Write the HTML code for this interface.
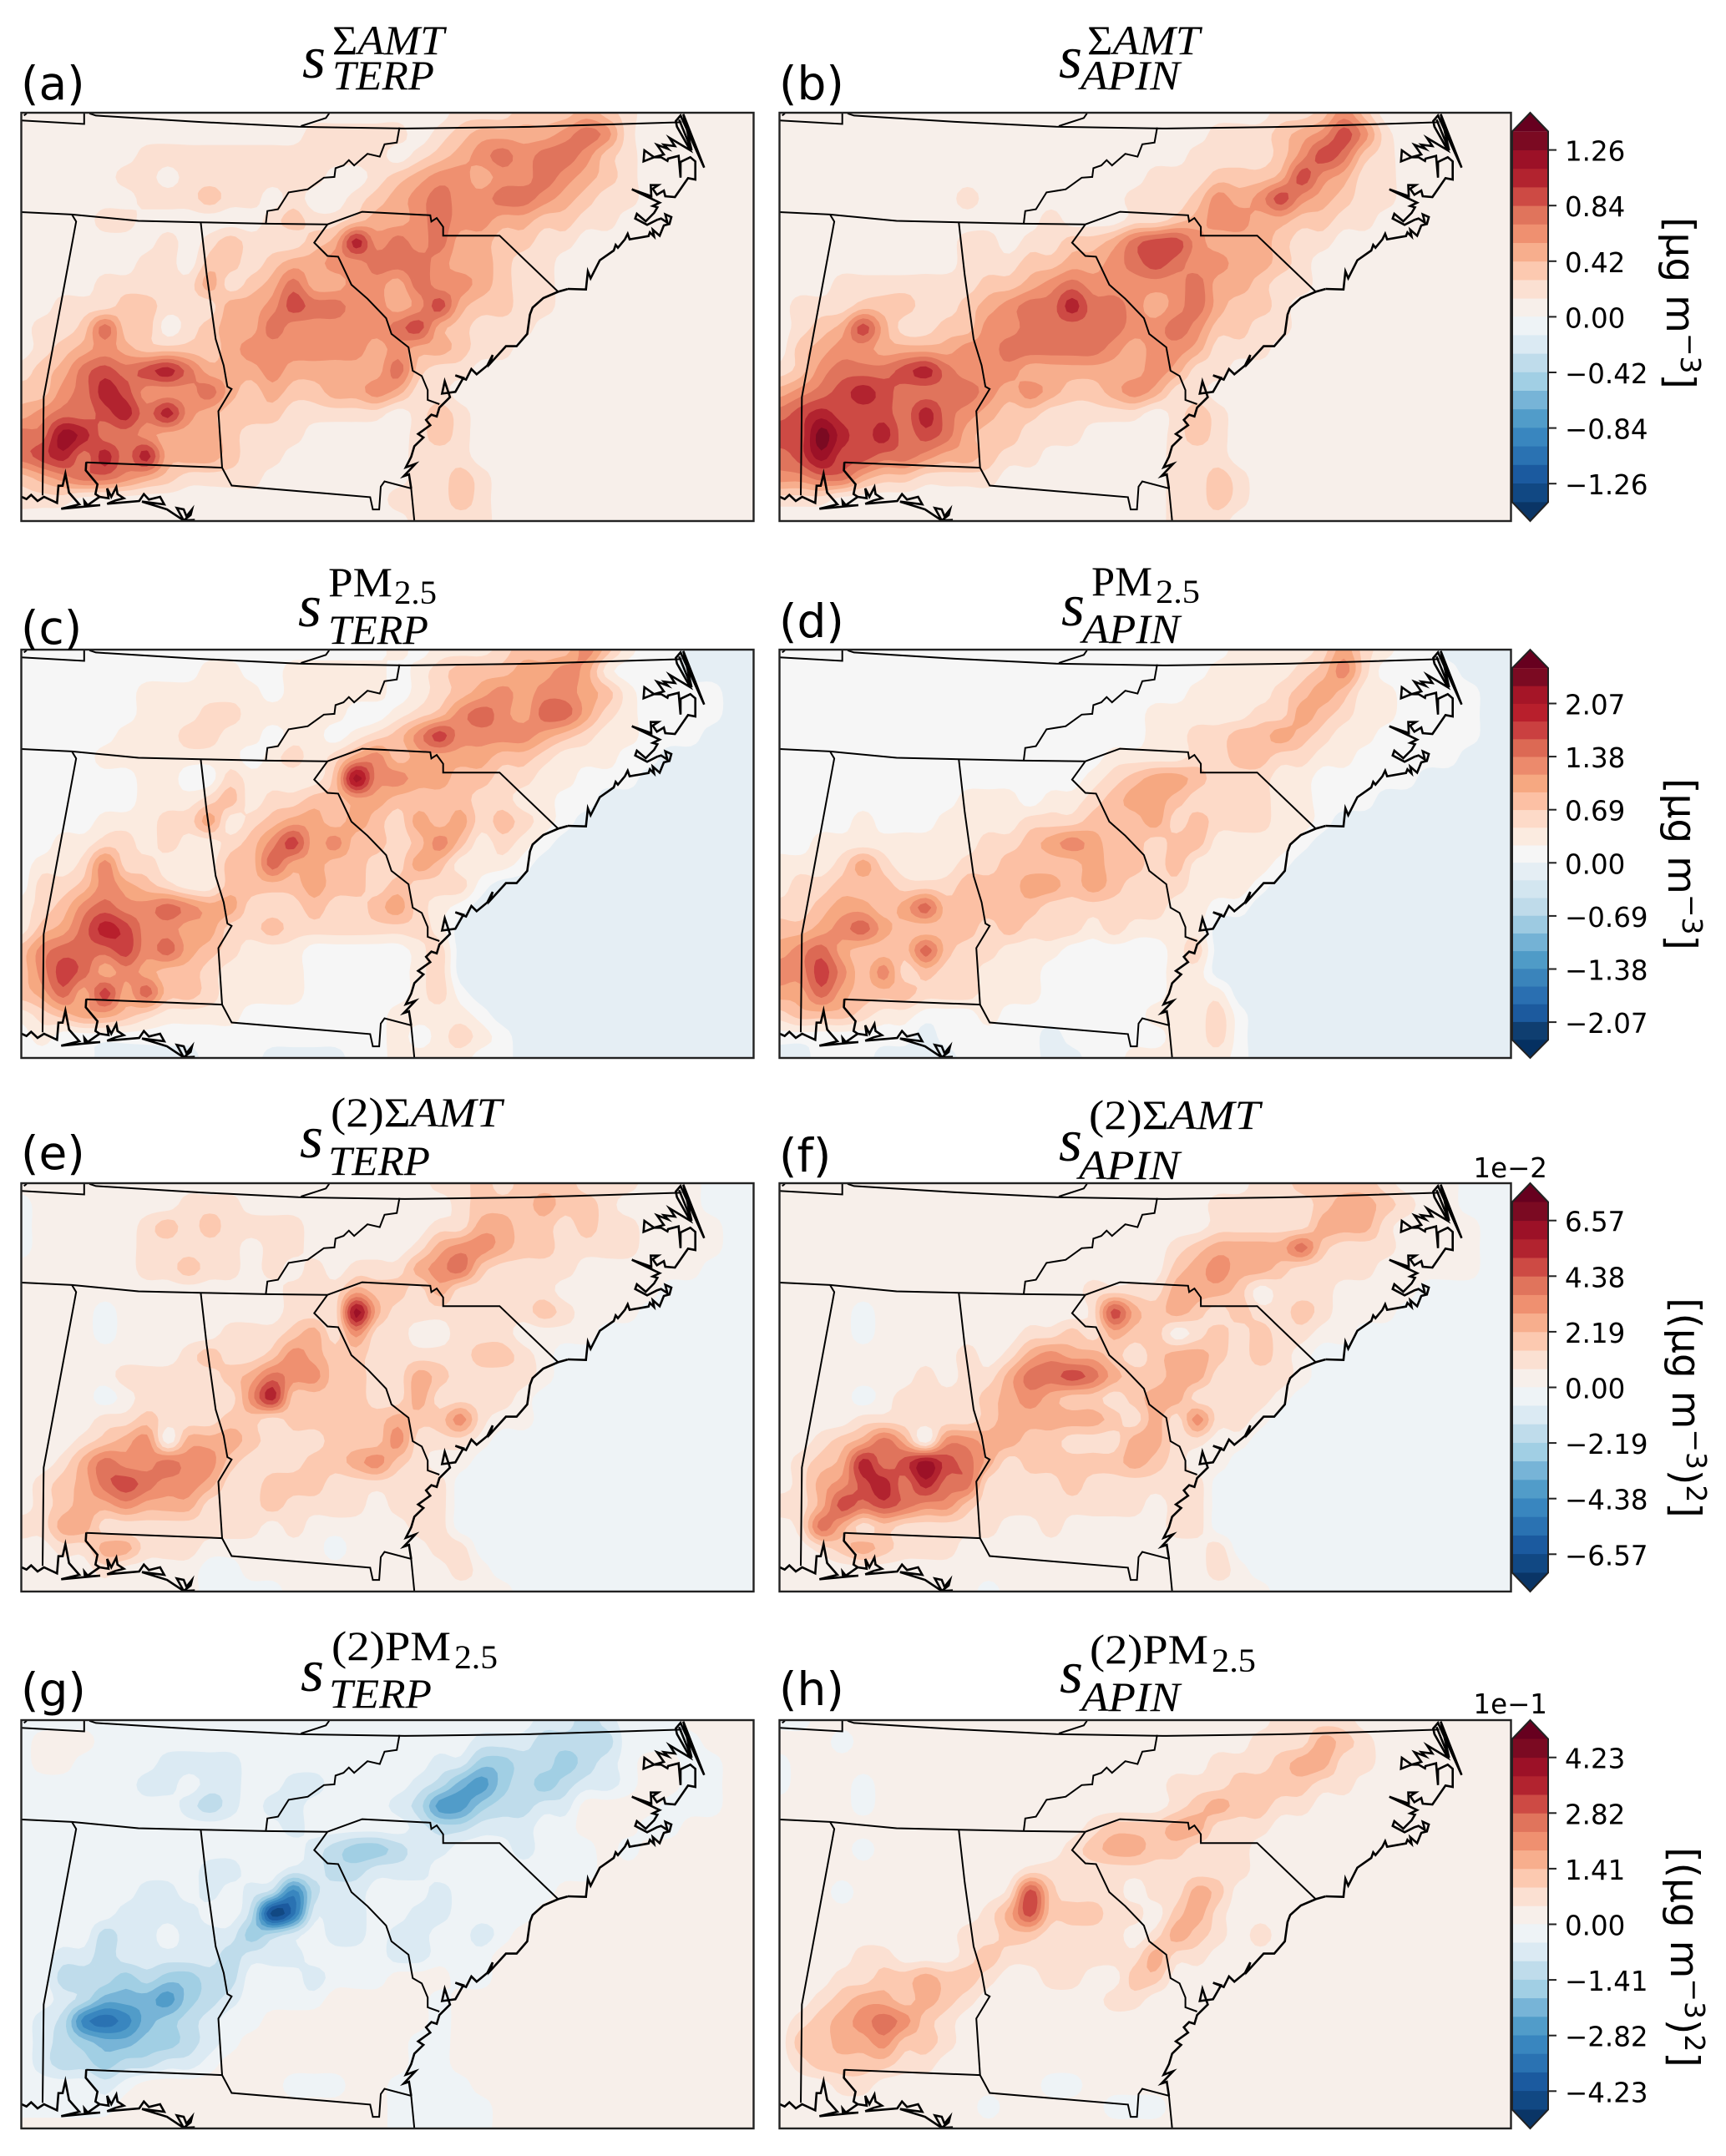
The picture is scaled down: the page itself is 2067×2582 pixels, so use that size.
<!DOCTYPE html>
<html lang="en">
<head>
<meta charset="utf-8">
<title>Sensitivity maps</title>
<style>
html,body{margin:0;padding:0;background:#fff}
svg{display:block}
.lab{font:55px "DejaVu Sans","Liberation Sans",sans-serif;fill:#000}
.tick{font:32.5px "DejaVu Sans","Liberation Sans",sans-serif;fill:#000}
.cbl{font:47px "DejaVu Sans","Liberation Sans",sans-serif;fill:#000}
.ts{font:italic 72px "Liberation Serif",serif;fill:#000}
.tb{font:italic 50px "Liberation Serif",serif;fill:#000}
.tu{font:50px "Liberation Serif",serif;fill:#000}
.ts2{font:40px "Liberation Serif",serif;fill:#000}
</style>
</head>
<body>
<svg id="fig" xmlns="http://www.w3.org/2000/svg" width="2067" height="2582" viewBox="0 0 2067 2582">
<rect x="0" y="0" width="2067" height="2582" fill="#fff"/>
<g id="maps"></g>
<g id="cbars"></g>

<text class="lab" x="25" y="119">(a)</text>
<text class="lab" x="933" y="119">(b)</text>
<text class="lab" x="25" y="771">(c)</text>
<text class="lab" x="933" y="763">(d)</text>
<text class="lab" x="25" y="1400">(e)</text>
<text class="lab" x="933" y="1403">(f)</text>
<text class="lab" x="25" y="2043">(g)</text>
<text class="lab" x="933" y="2042">(h)</text>

<g>
<text class="ts" x="362" y="93">s</text>
<text class="tb" x="398" y="65" textLength="134" lengthAdjust="spacingAndGlyphs"><tspan font-style="normal">Σ</tspan>AMT</text>
<text class="tb" x="398" y="107" textLength="122" lengthAdjust="spacingAndGlyphs">TERP</text>
</g>
<g>
<text class="ts" x="1268" y="93">s</text>
<text class="tb" x="1302" y="65" textLength="135" lengthAdjust="spacingAndGlyphs"><tspan font-style="normal">Σ</tspan>AMT</text>
<text class="tb" x="1294" y="107" textLength="119" lengthAdjust="spacingAndGlyphs">APIN</text>
</g>
<g>
<text class="ts" x="357" y="750">s</text>
<text class="tu" x="393" y="714" textLength="77" lengthAdjust="spacingAndGlyphs">PM</text>
<text class="ts2" x="472" y="723" textLength="51" lengthAdjust="spacingAndGlyphs">2.5</text>
<text class="tb" x="393" y="771" textLength="120" lengthAdjust="spacingAndGlyphs">TERP</text>
</g>
<g>
<text class="ts" x="1271" y="749">s</text>
<text class="tu" x="1307" y="713" textLength="73" lengthAdjust="spacingAndGlyphs">PM</text>
<text class="ts2" x="1384" y="722" textLength="53" lengthAdjust="spacingAndGlyphs">2.5</text>
<text class="tb" x="1296" y="770" textLength="117" lengthAdjust="spacingAndGlyphs">APIN</text>
</g>
<g>
<text class="ts" x="359" y="1386">s</text>
<text class="tb" x="396" y="1349" textLength="205" lengthAdjust="spacingAndGlyphs"><tspan font-style="normal">(2)Σ</tspan>AMT</text>
<text class="tb" x="393" y="1407" textLength="122" lengthAdjust="spacingAndGlyphs">TERP</text>
</g>
<g>
<text class="ts" x="1268" y="1390">s</text>
<text class="tb" x="1304" y="1352" textLength="205" lengthAdjust="spacingAndGlyphs"><tspan font-style="normal">(2)Σ</tspan>AMT</text>
<text class="tb" x="1292" y="1412" textLength="121" lengthAdjust="spacingAndGlyphs">APIN</text>
</g>
<g>
<text class="ts" x="360" y="2025">s</text>
<text class="tu" x="397" y="1988" textLength="143" lengthAdjust="spacingAndGlyphs">(2)PM</text>
<text class="ts2" x="544" y="1998" textLength="52" lengthAdjust="spacingAndGlyphs">2.5</text>
<text class="tb" x="394" y="2045" textLength="123" lengthAdjust="spacingAndGlyphs">TERP</text>
</g>
<g>
<text class="ts" x="1269" y="2027">s</text>
<text class="tu" x="1305" y="1992" textLength="142" lengthAdjust="spacingAndGlyphs">(2)PM</text>
<text class="ts2" x="1451" y="2002" textLength="53" lengthAdjust="spacingAndGlyphs">2.5</text>
<text class="tb" x="1295" y="2049" textLength="118" lengthAdjust="spacingAndGlyphs">APIN</text>
</g>

<text class="cbl" transform="translate(1996,363) rotate(90)" text-anchor="middle">[µg m<tspan dy="-17" font-size="33">−3</tspan><tspan dy="17">]</tspan></text>
<text class="cbl" transform="translate(1998,1035) rotate(90)" text-anchor="middle">[µg m<tspan dy="-17" font-size="33">−3</tspan><tspan dy="17">]</tspan></text>
<text class="cbl" transform="translate(2003,1686) rotate(90)" text-anchor="middle">[(µg m<tspan dy="-17" font-size="33">−3</tspan><tspan dy="17">)</tspan><tspan dy="-17" font-size="33">2</tspan><tspan dy="17">]</tspan></text>
<text class="cbl" transform="translate(2001,2344) rotate(90)" text-anchor="middle">[(µg m<tspan dy="-17" font-size="33">−3</tspan><tspan dy="17">)</tspan><tspan dy="-17" font-size="33">2</tspan><tspan dy="17">]</tspan></text>
<text class="tick" x="1853" y="1410" text-anchor="end">1e−2</text>
<text class="tick" x="1853" y="2052" text-anchor="end">1e−1</text>
</svg>

<script>
// Field values: contour band index per grid node, 36 columns × 20 rows (short rows repeat their last value).
const fieldA=[
[0,0,0,0,0,0,0,0,0,0,0,0,0,0,0,0,0,0,0,0,0,1,1,1,2,2,2,3,2,1,0],
[0,0,0,0,0,0,0,0,0,0,0,0,0,0,1,1,1,1,1,0,1,2,3,3,3,3,4,5,4,1,0],
[0,0,0,0,0,0,1,1,1,1,1,1,1,1,1,1,1,1,0,1,2,3,4,5,4,5,5,4,2,1,0],
[0,0,0,0,0,1,1,0,1,1,1,1,1,1,1,0,0,1,2,3,4,4,3,4,4,5,4,3,2,1,0],
[0,0,0,0,0,0,1,1,1,2,1,1,0,1,0,0,1,2,3,4,5,4,4,5,5,4,3,2,1,1,0],
[0,0,0,0,1,1,0,0,0,0,0,0,1,2,1,1,2,3,3,4,5,4,4,3,3,2,2,1,1,0],
[0,0,0,0,0,0,0,1,0,1,2,1,1,1,2,3,7,4,5,4,5,3,3,2,2,1,1,0],
[0,0,0,0,0,0,1,1,0,2,2,1,2,3,3,4,4,5,5,5,4,3,3,2,1,1,0],
[0,0,0,0,1,1,1,1,1,3,1,2,3,5,3,3,4,4,3,5,4,4,3,2,1,1,0],
[0,0,1,1,1,2,2,1,1,1,3,3,4,6,5,5,4,4,3,4,6,3,2,2,1,1,0],
[0,1,1,2,5,2,2,0,1,2,3,3,5,4,4,4,4,4,5,6,3,2,1,1,1,0],
[0,1,2,3,4,3,2,2,2,2,3,4,4,4,4,4,4,3,4,3,3,2,1,1,0],
[1,2,3,5,6,5,6,7,5,3,3,3,4,3,3,3,3,3,5,2,1,1,0],
[2,2,4,5,7,6,4,4,4,5,3,2,3,2,2,3,3,4,3,1,1,0],
[3,4,5,5,6,7,5,7,4,3,2,2,2,1,1,1,1,1,0,1,2,1,0],
[5,5,8,7,5,5,4,3,3,3,2,1,1,1,0,0,0,0,0,1,2,1,0],
[5,6,7,5,7,5,7,3,3,3,2,1,1,0,0,0,0,0,0,1,1,1,0],
[2,3,4,5,5,4,3,2,1,1,1,1,0,0,0,0,0,0,0,1,1,2,1,0],
[1,1,1,0,0,0,0,0,0,0,0,0,0,0,0,0,0,0,1,1,1,2,1,0],
[0,0,0,0,0,0,0,0,0,0,0,0,0,0,0,0,0,0,0,1,1,1,1,0]
];
const fieldB=[
[0,0,0,0,0,0,0,0,0,0,0,0,0,0,0,0,0,0,0,0,0,0,0,0,1,1,2,4,2,0],
[0,0,0,0,0,0,0,0,0,0,0,0,0,0,0,0,0,0,0,0,0,1,1,1,2,3,4,6,4,1,0],
[0,0,0,0,0,0,0,0,0,0,0,0,0,0,0,0,0,0,0,0,1,1,1,1,2,4,6,5,2,1,0],
[0,0,0,0,0,0,0,0,0,0,0,0,0,0,0,0,0,0,1,1,1,2,2,2,3,6,4,3,1,1,0],
[0,0,0,0,0,0,0,0,0,1,0,0,0,0,0,0,0,1,1,1,2,4,3,4,6,4,3,2,1,1,0],
[0,0,0,0,0,0,0,0,0,0,0,0,0,1,0,0,0,1,1,2,3,4,4,3,3,2,2,1,1,0],
[0,0,0,0,0,0,0,0,0,1,1,0,1,1,2,2,3,5,6,6,4,3,3,3,2,1,1,0],
[0,0,0,0,0,0,0,0,0,1,1,1,2,2,3,3,4,5,6,5,4,4,3,3,2,1,0],
[0,0,0,1,1,1,1,1,1,1,2,2,3,4,5,4,4,4,4,4,5,3,3,2,1,1,0],
[0,1,1,1,2,2,2,1,1,2,3,4,5,5,7,5,5,4,3,4,5,3,2,2,1,0],
[0,1,2,3,6,3,1,1,2,2,4,4,5,5,5,5,5,4,4,5,4,2,2,1,1,0],
[0,2,3,4,4,3,3,3,3,4,4,5,5,5,5,5,4,3,4,4,3,1,1,1,0],
[1,2,4,5,5,5,6,7,5,4,4,4,3,3,3,3,3,3,4,3,1,1,0],
[3,4,5,6,7,6,5,5,5,5,4,3,4,3,2,2,3,4,3,1,1,0],
[5,6,7,6,6,6,5,7,5,4,3,2,2,1,1,1,1,1,0,1,2,1,0],
[6,6,9,7,6,7,5,6,5,3,2,2,1,1,1,0,0,0,0,1,2,1,0],
[5,6,8,6,6,5,5,4,3,3,2,1,1,0,0,0,0,0,0,1,1,1,0],
[4,4,5,5,3,2,2,1,1,1,1,0,0,0,0,0,0,0,0,1,1,2,1,0],
[1,1,1,0,0,0,0,0,0,0,0,0,0,0,0,0,0,0,0,1,1,2,1,0],
[0,0,0,0,0,0,0,0,0,0,0,0,0,0,0,0,0,0,0,1,1,1,0]
];
const fieldC=[
[0,0,0,0,0,0,0,0,0,0,0,0,0,0,0,0,0,0,1,0,1,1,1,2,3,3,3,5,3,1,0,0,-1],
[0,0,0,0,0,0,0,0,0,1,1,0,0,1,1,1,1,1,0,1,2,3,3,3,4,4,5,4,1,0,0,0,-1],
[0,0,0,0,0,0,1,1,1,1,1,1,0,1,1,1,1,1,0,1,2,3,4,5,4,5,5,4,3,1,0,0,0,0,-1],
[0,0,0,0,0,0,1,1,1,2,2,1,1,1,1,1,0,0,1,2,3,5,6,5,4,6,6,4,2,1,0,0,0,0,-1],
[0,0,0,0,0,1,1,1,2,2,1,1,0,1,1,0,1,2,3,5,7,5,5,5,5,4,3,2,1,1,0,0,0,-1],
[0,0,0,0,1,1,1,1,1,1,1,0,1,2,1,2,4,5,3,4,4,4,4,3,3,2,1,1,1,0,0,-1],
[0,0,0,0,0,0,1,1,0,0,2,1,1,1,1,3,9,5,5,4,4,3,3,2,2,1,1,0,0,0,-1],
[0,0,0,0,0,0,1,1,1,2,3,1,2,2,3,3,4,4,3,3,3,3,2,2,1,1,0,0,-1],
[0,0,0,0,1,1,1,2,2,4,1,2,3,4,4,3,4,3,2,4,3,4,2,3,2,1,0,-1],
[0,0,1,1,2,2,1,2,1,1,2,3,5,7,4,5,3,3,2,3,5,3,1,2,1,0,-1],
[0,1,1,2,5,2,2,1,1,1,3,3,6,4,4,3,3,2,2,4,3,1,1,1,0,-1],
[0,2,2,3,5,4,3,2,1,1,3,3,3,3,4,3,3,2,3,2,2,2,0,-1],
[1,2,3,5,6,5,5,6,5,4,4,2,2,2,3,2,2,3,4,2,1,0,-1],
[1,3,4,6,8,7,5,5,4,4,2,2,3,2,2,2,2,2,2,2,1,-1],
[3,5,6,6,6,7,5,6,4,3,2,1,1,1,0,0,0,0,0,1,2,-1],
[3,5,7,6,4,5,4,3,3,2,1,1,1,1,0,0,0,0,0,1,2,-1],
[3,4,6,4,7,4,6,3,3,2,1,1,1,1,0,0,0,0,0,1,2,0,-1],
[1,2,3,4,4,3,2,1,1,1,1,0,0,0,0,0,0,0,1,1,1,1,0,-1],
[0,1,0,0,0,0,0,0,0,0,0,0,0,0,0,0,0,0,1,0,1,2,1,0,-1],
[0,0,0,0,-1,-1,-1,-1,-1,0,0,0,-1,-1,-1,-1,0,0,1,1,1,1,0,0,-1]
];
const fieldD=[
[0,0,0,0,0,0,0,0,0,0,0,0,0,0,0,0,0,0,0,0,0,0,1,1,1,1,2,4,2,1,0,0,-1],
[0,0,0,0,0,0,0,0,0,0,0,0,0,0,0,0,0,0,0,0,0,1,1,1,1,2,3,5,2,0,0,0,0,-1],
[0,0,0,0,0,0,0,0,0,0,0,0,0,0,0,0,0,0,0,0,1,1,1,1,2,3,4,3,1,1,0,0,0,0,-1],
[0,0,0,0,0,0,0,0,0,0,0,0,0,0,0,0,0,0,1,1,1,1,1,2,2,4,3,2,1,1,0,0,0,0,-1],
[0,0,0,0,0,0,0,0,0,0,0,0,0,0,0,0,0,0,1,1,2,2,3,3,4,3,2,1,1,0,0,0,0,0,-1],
[0,0,0,0,0,0,0,0,0,0,0,0,0,0,0,0,1,1,1,1,2,2,3,3,2,2,1,1,0,0,0,0,0,-1],
[0,0,0,0,0,0,0,0,0,0,0,0,0,0,0,1,2,3,4,4,3,2,2,2,1,1,0,0,0,0,0,-1],
[0,0,0,0,0,0,0,0,0,1,1,1,0,1,1,2,3,4,4,3,2,2,2,2,1,1,0,0,0,-1],
[0,0,0,0,1,0,0,0,1,1,1,1,2,2,2,3,3,3,4,2,3,2,2,2,1,1,0,-1],
[0,0,1,1,1,1,1,1,1,1,2,2,3,4,5,4,3,3,2,3,3,1,1,1,1,0,-1],
[1,1,1,2,4,2,1,1,1,2,2,3,3,3,3,4,3,3,2,3,1,1,1,1,0,-1],
[1,2,2,3,3,3,2,2,2,3,3,3,4,4,3,4,3,2,2,2,1,1,1,0,-1],
[2,2,3,4,4,3,4,6,3,3,3,3,3,2,2,2,2,2,2,1,1,0,0,-1],
[3,3,4,5,6,4,3,3,3,3,2,3,2,2,2,1,2,1,1,1,1,-1],
[4,5,6,4,3,3,3,6,3,2,2,1,1,1,0,0,0,0,0,1,2,-1],
[5,5,7,5,3,5,2,3,2,2,1,1,1,0,0,0,0,0,0,1,1,-1],
[4,4,6,4,3,3,3,2,2,2,1,1,1,0,0,0,0,0,0,1,1,1,-1],
[2,3,3,3,2,1,1,0,0,0,1,0,0,0,0,0,0,0,1,1,1,2,0,-1],
[0,0,0,0,0,0,0,-1,0,0,0,0,0,-1,0,0,0,0,0,1,1,2,0,-1],
[-1,-1,0,0,0,-1,-1,-1,-1,0,0,0,0,-1,-1,0,0,1,1,1,1,1,0,-1]
];
const fieldE=[
[0,0,0,0,0,0,0,0,0,0,0,0,0,0,0,0,0,0,0,0,1,1,2,1,2,2,2,1,1,1,0,0,0,-1],
[-1,0,0,0,0,0,0,0,1,1,1,0,0,0,0,0,0,0,0,0,0,1,2,2,2,3,2,2,1,0,0,0,0,-1],
[-1,0,0,0,0,0,1,2,1,2,1,1,1,1,0,0,0,0,0,0,1,1,3,3,2,2,1,2,1,1,0,0,0,0,-1],
[-1,0,0,0,0,0,1,1,1,1,1,0,1,1,0,0,0,0,0,1,3,4,4,3,2,2,1,1,1,1,0,0,0,0,-1],
[0,0,0,0,0,0,1,1,2,1,1,0,1,0,1,0,1,1,1,3,4,5,2,1,1,1,1,0,0,0,0,0,0,-1],
[0,0,0,0,0,0,0,0,0,0,0,0,0,1,1,1,3,2,2,1,3,1,1,1,1,1,0,0,0,0,0,-1],
[0,0,0,0,-1,0,0,0,0,0,0,0,0,1,1,1,8,3,1,1,1,1,1,1,1,2,1,0,0,0,-1],
[0,0,0,0,-1,0,0,0,0,0,1,1,1,2,3,1,4,1,1,0,0,1,1,1,0,0,0,0,-1],
[0,0,0,0,0,0,0,0,1,2,1,1,2,4,3,2,2,1,1,1,1,1,2,2,1,0,-1],
[0,0,0,0,0,1,1,1,1,1,2,3,5,4,4,2,2,1,1,3,2,1,1,1,1,0,-1],
[0,0,0,0,-1,0,1,1,1,1,1,4,7,2,2,2,2,1,1,3,1,1,1,1,0,-1],
[0,0,0,0,1,1,2,1,1,1,2,2,1,2,2,2,2,2,3,2,2,4,1,0,0,-1],
[0,0,0,1,2,3,4,0,3,3,3,2,1,1,1,2,2,2,4,1,1,1,0,-1],
[0,0,1,3,5,4,4,5,4,4,2,1,1,1,2,2,3,4,2,1,0,0,-1],
[0,1,2,3,5,6,5,4,4,3,1,1,2,2,2,1,1,1,1,1,1,-1],
[0,1,2,3,3,4,3,3,3,1,1,1,2,1,1,1,1,0,1,1,1,-1],
[1,1,3,3,1,1,1,1,1,1,1,1,0,1,0,0,0,0,0,1,1,-1],
[0,0,1,1,3,3,1,1,1,0,0,0,0,0,0,-1,0,0,0,0,1,1,-1],
[0,0,0,0,1,0,0,0,0,-1,-1,0,0,0,0,0,0,0,0,0,0,1,0,-1],
[0,0,0,0,0,0,0,0,0,-1,-1,-1,-1,0,0,0,0,0,0,0,0,0,0,0,-1]
];
const fieldF=[
[0,0,0,0,0,0,0,0,0,0,0,0,0,0,0,0,0,0,0,0,0,0,0,1,1,2,2,2,2,1,0,0,0,-1],
[0,0,0,0,0,0,0,0,0,0,0,0,0,0,0,0,0,0,0,0,0,1,1,1,1,1,2,3,3,2,1,0,0,-1],
[0,0,0,0,0,0,0,0,0,0,0,0,0,0,0,0,0,0,0,0,0,1,1,1,1,1,3,3,3,1,0,0,0,0,-1],
[0,0,0,0,0,0,0,0,0,0,0,0,0,0,0,0,0,0,0,1,2,3,3,3,3,5,2,1,1,1,0,0,0,0,-1],
[0,0,0,0,0,0,0,0,0,0,0,0,0,0,0,0,0,0,0,2,3,4,3,3,2,1,1,1,1,0,0,0,0,0,-1],
[0,0,0,0,0,0,0,0,0,0,0,0,0,0,0,1,1,1,1,3,3,3,2,0,1,1,1,0,0,0,0,-1],
[0,0,0,0,-1,0,0,0,0,0,0,0,0,0,0,1,6,3,2,3,2,1,2,1,1,2,1,0,0,0,-1],
[0,0,0,0,-1,0,0,0,0,0,0,0,1,1,2,1,3,2,2,0,1,2,1,2,1,1,0,0,-1],
[0,0,0,0,0,0,0,0,0,1,0,1,3,4,3,3,2,1,2,3,3,2,1,2,1,0,-1],
[0,0,0,0,0,0,0,1,0,1,1,3,5,5,6,5,3,2,2,3,3,1,1,1,1,0,-1],
[0,0,0,0,-1,0,1,1,1,1,2,3,4,3,2,2,1,2,3,3,1,1,1,1,0,-1],
[0,0,0,0,1,1,1,1,1,1,2,3,3,3,3,3,2,1,3,1,4,1,1,0,-1],
[0,0,1,2,3,5,3,0,4,4,3,3,2,2,1,1,1,3,3,1,1,0,0,-1],
[0,1,2,3,7,5,6,8,6,5,3,1,2,2,2,2,2,3,2,1,0,0,-1],
[0,1,3,4,6,7,5,7,5,5,1,1,1,1,2,1,1,1,1,1,1,-1],
[1,1,3,6,5,6,5,4,4,2,1,1,1,1,1,1,1,1,0,1,1,-1],
[0,1,5,3,1,2,1,1,1,1,1,0,0,1,0,0,0,0,0,1,1,-1],
[0,0,1,2,3,2,1,1,1,0,0,0,0,0,0,0,0,0,0,0,0,1,-1],
[0,0,0,0,0,0,0,0,0,0,0,0,0,0,0,0,0,0,0,0,0,1,0,-1],
[0,0,0,0,0,0,0,0,0,0,-1,0,0,0,0,0,0,0,0,0,0,0,0,0,-1]
];
const fieldG=[
[-1,-1,-1,-1,-1,-1,-1,-1,-1,-1,-1,-1,-1,-1,-1,-1,-1,-1,-1,-1,-1,-1,-1,-1,-1,-2,-2,-3,-2,-1,-1,-1,0],
[-1,0,0,0,-1,-1,-1,-1,-1,-1,-1,-1,-1,-1,-1,-1,-1,-1,-1,-1,-1,-1,-2,-2,-2,-3,-3,-3,-3,-1,-1,-1,-1,0],
[-1,0,0,-1,-1,-1,-1,-2,-2,-2,-2,-1,-1,-1,-1,-1,-1,-1,-1,-1,-2,-2,-4,-4,-3,-3,-4,-3,-2,-1,0,0,-1,-1,0],
[-1,-1,-1,-1,-1,-1,-2,-2,-1,-2,-2,-1,-1,-2,-2,-1,-1,-1,-1,-2,-3,-5,-6,-4,-3,-4,-3,-2,-2,-1,0,0,-1,-1,0],
[-1,-1,-1,-1,-1,-1,-1,-1,-2,-3,-2,-1,-2,-2,-1,-1,-1,-1,-2,-3,-6,-6,-4,-3,-3,-2,-2,0,0,0,0,-1,-1,-1,0],
[-1,-1,-1,-1,-1,-1,-1,-1,-1,-1,-1,-1,-1,-2,-1,-1,-1,-1,-1,-2,-3,-3,-2,-2,-2,-1,-1,0,0,0,-1,-1,0],
[-1,-1,-1,-1,-1,-1,-1,-1,-1,-1,-1,-1,-1,-1,-2,-3,-4,-4,-3,-2,-2,-1,-1,-1,-2,-1,-1,-1,0,-1,0],
[-1,-1,-1,-1,-1,-1,-1,-1,-1,-2,-2,-1,-1,-2,-2,-3,-3,-2,-2,-2,-1,-1,-1,-1,-1,-1,-1,-1,0],
[-1,-1,-1,-1,-1,-1,-2,-2,-1,-2,-1,-2,-3,-7,-3,-2,-2,-1,-1,-1,-2,-1,-1,-1,-1,-1,0],
[-1,-1,-1,-1,-1,-2,-2,-2,-2,-1,-1,-3,-10,-8,-2,-2,-2,-1,-1,-2,-2,-1,-1,-1,-1,0],
[-1,-1,-1,-1,-3,-2,-2,-1,-2,-2,-2,-4,-3,-2,-1,-2,-2,-1,-2,-2,-1,-1,-2,-1,0],
[-1,-1,-2,-2,-3,-2,-2,-2,-2,-2,-3,-2,-2,-2,-1,-1,-1,-1,-2,-2,-1,-1,-1,0],
[-1,-1,-3,-3,-3,-4,-3,-4,-4,-3,-3,-1,-1,-1,-2,-1,-1,-1,0,0,0,-1,-1,0],
[-1,-1,-2,-3,-5,-5,-5,-6,-4,-3,-2,-1,-1,-1,-1,0,0,0,0,0,-1,0],
[-1,-2,-3,-7,-8,-7,-5,-4,-3,-2,-1,-1,0,0,0,0,0,0,0,0,-1,0],
[-1,-2,-3,-4,-5,-5,-4,-4,-3,-2,-1,0,0,0,0,0,0,0,0,-1,-1,0],
[-1,-2,-3,-3,-4,-3,-3,-2,-2,-1,0,0,0,0,0,0,0,0,0,-1,-1,0],
[-1,-1,-1,-1,-2,-1,0,0,0,0,0,0,0,-1,-1,-1,0,0,-1,-1,-1,-1,0],
[-1,-1,-1,-1,-1,0,0,0,0,0,0,0,0,0,0,0,0,0,-1,-1,-1,-1,-1,0],
[0,0,0,0,0,0,0,0,0,0,0,0,0,0,0,0,0,0,-1,-1,-1,-1,-1,0]
];
const fieldH=[
[-1,-1,0,0,0,0,0,0,0,0,0,0,0,0,0,0,0,0,0,0,0,0,0,0,1,1,1,1,0],
[0,0,0,-1,0,0,0,0,0,0,0,0,0,0,0,0,0,0,0,0,0,0,0,1,1,1,3,2,1,0],
[-1,0,0,0,0,0,0,0,0,0,0,0,0,0,0,0,0,0,0,0,0,1,1,1,2,3,3,1,1,0],
[-1,0,0,0,-1,0,0,0,0,0,0,0,0,0,0,0,0,0,0,1,1,1,2,2,2,2,1,1,0],
[0,0,0,0,-1,0,0,0,0,0,0,0,0,0,0,0,0,0,0,1,2,3,2,2,1,1,0],
[0,0,0,0,0,0,0,0,0,0,0,0,0,0,0,1,2,2,2,3,3,1,1,1,0],
[0,0,0,0,-1,0,0,0,0,0,0,0,0,0,1,2,3,3,2,2,1,1,1,0],
[0,0,0,0,0,0,0,0,0,0,0,0,1,1,1,1,1,1,1,1,1,1,1,0],
[0,0,0,-1,0,0,0,0,0,0,0,1,6,2,1,1,1,0,1,1,3,2,0],
[0,0,0,0,0,0,0,0,0,0,1,3,6,2,2,2,1,1,0,2,3,1,0],
[0,0,0,0,0,0,0,0,0,1,1,2,2,1,1,1,1,0,1,3,2,1,0,1,0],
[0,0,0,0,1,1,0,0,0,1,2,1,1,1,1,1,1,1,3,1,1,0],
[0,0,0,1,1,2,2,3,2,2,1,0,0,1,1,0,0,2,2,0],
[0,0,1,2,3,3,2,3,2,1,0,0,0,0,0,0,1,1,0],
[0,1,2,3,4,5,4,2,1,0],
[0,2,2,3,3,4,2,2,1,0],
[0,1,2,2,2,2,1,1,0],
[0,0,0,1,1,0,0,0,0,0,0,0,0,-1,-1,0],
[0,0,0,0,0,0,0,0,0,0,-1,0,0,0,0,0,-1,-1,-1,0],
[0]
];

// Colour bands (index = band above the zero tick; negatives counted separately)
const bandsEvenPos=["#f7efea","#fbe0d2","#fcc9b0","#f7ae8d","#ef9070","#e0745c","#cd4a44","#b2232f","#9c1127","#7b0a22","#67001f"];
const bandsEvenNeg=["#eef3f6","#dbeaf3","#bfdceb","#a1cfe4","#77b4d7","#519cc9","#3986bf","#2a72b2","#1b5a9f","#114883","#0a3566"];
const bandsOddPos=["#f6f6f6","#fbebe0","#fddac8","#fcc0a4","#f6a881","#ec8a6c","#dc6954","#ca4040","#b81f2c","#a51527","#7b0a22","#67001f"];
const bandsOddNeg=["#e5eef4","#d3e6f0","#bfdbea","#9dcae1","#74b2d5","#4f9bc7","#3a84bb","#2a6fb1","#1c5a9e","#0f3e70","#053061"];

// Colourbar tick values
const ticksRow1=[1.26,0.84,0.42,0,-0.42,-0.84,-1.26];
const ticksRow2=[2.07,1.38,0.69,0,-0.69,-1.38,-2.07];
const ticksRow3=[6.57,4.38,2.19,0,-2.19,-4.38,-6.57];
const ticksRow4=[4.23,2.82,1.41,0,-1.41,-2.82,-4.23];

const NCOL=36,NROW=20,UP=4;
const SVGNS="http://www.w3.org/2000/svg";
const mapsG=document.getElementById('maps');
const cbarsG=document.getElementById('cbars');
function mk(tag,attrs,parent){const e=document.createElementNS(SVGNS,tag);for(const k in attrs)e.setAttribute(k,attrs[k]);parent.appendChild(e);return e;}

function padField(f){
  return Array.from({length:NROW},(_,r)=>{
    const row=f[r]||[0];
    return Array.from({length:NCOL},(_,c)=>c<row.length?row[c]:row[row.length-1]);
  });
}
function cr(a,b,c,d,t){return 0.5*((2*b)+(-a+c)*t+(2*a-5*b+4*c-d)*t*t+(-a+3*b-3*c+d)*t*t*t);}
function upsample(g){
  const W=(NCOL-1)*UP+1,H=(NROW-1)*UP+1,out=[];
  const at=(r,c)=>g[Math.max(0,Math.min(NROW-1,r))][Math.max(0,Math.min(NCOL-1,c))];
  for(let j=0;j<H;j++){
    const sy=j/UP,iy=Math.min(NROW-2,Math.floor(sy)),fy=sy-iy,row=[];
    for(let i=0;i<W;i++){
      const sx=i/UP,ix=Math.min(NCOL-2,Math.floor(sx)),fx=sx-ix,col=[];
      for(let k=-1;k<=2;k++)col.push(cr(at(iy+k,ix-1),at(iy+k,ix),at(iy+k,ix+1),at(iy+k,ix+2),fx));
      let v=cr(col[0],col[1],col[2],col[3],fy);
      const a=at(iy,ix),b=at(iy,ix+1),c=at(iy+1,ix),d=at(iy+1,ix+1);
      v=Math.max(Math.min(a,b,c,d),Math.min(Math.max(a,b,c,d),v));
      row.push(v);
    }
    out.push(row);
  }
  return out;
}
function regionPath(s,xs,ys,inside){
  let d='';
  const H=s.length,W=s[0].length;
  const f=n=>n.toFixed(1);
  for(let j=0;j<H-1;j++){
    let run=-1;
    for(let i=0;i<W-1;i++){
      const q=[[xs(i),ys(j),inside(s[j][i])],[xs(i+1),ys(j),inside(s[j][i+1])],[xs(i+1),ys(j+1),inside(s[j+1][i+1])],[xs(i),ys(j+1),inside(s[j+1][i])]];
      const all=q.every(p=>p[2]>=0),none=q.every(p=>p[2]<0);
      if(all){if(run<0)run=i;continue;}
      if(run>=0){d+='M'+f(xs(run))+' '+f(ys(j))+'H'+f(xs(i))+'V'+f(ys(j+1))+'H'+f(xs(run))+'Z';run=-1;}
      if(none)continue;
      const poly=[];
      for(let k=0;k<4;k++){
        const a=q[k],b=q[(k+1)%4];
        if(a[2]>=0)poly.push([a[0],a[1]]);
        if((a[2]>=0)!==(b[2]>=0)){const t=a[2]/(a[2]-b[2]);poly.push([a[0]+(b[0]-a[0])*t,a[1]+(b[1]-a[1])*t]);}
      }
      d+='M'+poly.map(p=>f(p[0])+' '+f(p[1])).join('L')+'Z';
    }
    if(run>=0){d+='M'+f(xs(run))+' '+f(ys(j))+'H'+f(xs(W-1))+'V'+f(ys(j+1))+'H'+f(xs(run))+'Z';}
  }
  return d;
}

// Basemap outlines (reference crop coordinates, mapped into every panel)
const bmWide=[
 [[40,342],[158,352],[158,322]],
 [[45,328],[50,322]],
 [[168,322],[180,328],[370,346],[560,360],[760,365],[1000,360],[1280,347]],
 [[565,358],[612,335],[618,322]],
 [[750,362],[745,405],[722,410],[713,445],[690,437],[665,470],[655,455],[645,470],[630,478],[628,503],[608,505],[578,538],[542,547],[522,595],[502,600],[499,637]],
 [[40,603],[135,610],[260,628],[377,632],[500,636],[615,638]],
 [[135,610],[143,630],[82,1130],[80,1410]],
 [[377,632],[388,780],[405,965],[420,1040],[427,1100],[435,1107],[410,1170],[417,1331]],
 [[615,638],[680,602],[808,612],[810,630],[820,620],[832,645],[832,670],[938,670],[1048,830]],
 [[615,638],[590,690],[615,728],[635,730],[660,810],[690,850],[725,905],[735,950],[767,988],[775,1055],[792,1070],[803,1110],[803,1138],[825,1150]],
 [[162,1316],[417,1331],[435,1382],[695,1415],[700,1450],[712,1450],[715,1385],[722,1370],[772,1390],[778,1482]],
 [[772,1390],[768,1350],[758,1355],[780,1320],[762,1330],[772,1300],[778,1270],[795,1245],[785,1235],[808,1210],[800,1195],[810,1180],[820,1185],[825,1160],[845,1130],[835,1085],[830,1120],[855,1115],[870,1075],[855,1068],[875,1080],[885,1050],[895,1065],[915,1040],[925,1010],[920,1035],[950,985],[970,985],[990,950],[995,895],[1000,875],[1020,848],[1048,830],[1066,822]]
];
const bmNorth=[
 [[0,678],[65,680],[72,615],[82,640],[115,575],[165,540],[172,520],[180,530],[205,500],[215,480],[222,500],[290,488],[295,475],[310,490],[305,465],[330,487],[345,450],[365,445],[372,420],[350,410],[358,440],[335,425],[320,430],[285,448],[242,425],[248,408],[280,435],[310,405],[322,385],[305,380],[330,368],[230,320],[300,345],[298,305],[325,305],[305,318],[320,340],[345,325],[350,345],[385,348],[432,280],[458,285],[458,220],[440,205],[405,222],[405,278],[398,200],[360,210],[358,218],[335,205],[310,205],[272,220],[275,180],[310,205],[345,195],[320,160],[360,175],[345,160],[385,165],[365,135],[440,180],[412,130],[392,95],[388,75],[405,55],[490,242],[415,50],[445,180],[400,70]]
];
const bmGulf=[
 [[18,195],[35,203],[52,188],[75,210],[98,195],[145,217],[150,155],[165,155],[175,112],[188,180],[225,222],[160,238],[300,225],[245,228],[243,210],[255,225],[298,195],[283,185],[290,150],[248,100],[250,70]],
 [[298,195],[330,200],[325,165],[340,195],[358,160],[362,185],[385,200],[355,208],[325,220],[440,210],[457,185],[475,205],[515,195],[530,222],[450,212],[540,240],[600,280],[575,235],[600,240],[610,265],[630,240],[625,260],[600,280],[640,278]]
];

const panels=[
 {id:'a',x:25.5,y:135,w:877,h:489,field:fieldA,pos:bandsEvenPos,neg:bandsEvenNeg},
 {id:'b',x:933.5,y:135,w:876,h:489,field:fieldB,pos:bandsEvenPos,neg:bandsEvenNeg},
 {id:'c',x:25.5,y:778,w:877,h:489,field:fieldC,pos:bandsOddPos,neg:bandsOddNeg},
 {id:'d',x:933.5,y:778,w:876,h:489,field:fieldD,pos:bandsOddPos,neg:bandsOddNeg},
 {id:'e',x:25.5,y:1417,w:877,h:489,field:fieldE,pos:bandsEvenPos,neg:bandsEvenNeg},
 {id:'f',x:933.5,y:1417,w:876,h:489,field:fieldF,pos:bandsEvenPos,neg:bandsEvenNeg},
 {id:'g',x:25.5,y:2060,w:877,h:489,field:fieldG,pos:bandsEvenPos,neg:bandsEvenNeg},
 {id:'h',x:933.5,y:2060,w:876,h:489,field:fieldH,pos:bandsEvenPos,neg:bandsEvenNeg}
];

panels.forEach(p=>{
  const g=mk('g',{},mapsG);
  
  
  const cid='clip-'+p.id;
  const cp=mk('clipPath',{id:cid},g);
  mk('rect',{x:p.x,y:p.y,width:p.w,height:p.h},cp);
  const bg=mk('rect',{x:p.x,y:p.y,width:p.w,height:p.h,fill:p.pos[0]},g);
  
  
  const grid=padField(p.field);
  const s=upsample(grid);
  const xCol=c=>p.x+c/(NCOL-1)*p.w;
  const yRow=r=>p.y+r/(NROW-1)*p.h;
  const xs=i=>xCol(i/UP),ys=j=>yRow(j/UP);
  let maxV=0,minV=0;
  grid.forEach(r=>r.forEach(v=>{if(v>maxV)maxV=v;if(v<minV)minV=v;}));
  for(let k=1;k<=maxV;k++){
    const d=regionPath(s,xs,ys,v=>v-(k-0.5));
    if(!d)continue;
    const el=mk('path',{d:d,fill:p.pos[Math.min(k,p.pos.length-1)]},g);
    
    
  }
  for(let k=-1;k>=minV;k--){
    const d=regionPath(s,xs,ys,v=>(k+0.5)-v);
    if(!d)continue;
    const el=mk('path',{d:d,fill:p.neg[Math.min(-k-1,p.neg.length-1)]},g);
    
    
  }
  const bm=mk('g',{'clip-path':'url(#'+cid+')',fill:'none',stroke:'#000','stroke-linejoin':'miter','stroke-miterlimit':'6'},g);
  
  
  const kx=p.w/1375,ky=p.h/1163;
  const draw=(pts,sw)=>{
    const l=mk('polyline',{points:pts.map(q=>q[0].toFixed(1)+','+q[1].toFixed(1)).join(' '),'stroke-width':sw},bm);
    
    
  };
  bmWide.forEach((l,i)=>draw(l.map(q=>[p.x+(q[0]-40)*kx,p.y+(q[1]-320)*ky]),i===11?2.6:2));
  bmNorth.forEach(l=>draw(l.map(q=>[p.x+(680+q[0]/3-25.5)*p.w/877,p.y+120+q[1]/3-135]),2.6));
  bmGulf.forEach(l=>draw(l.map(q=>[p.x+(20+q[0]/3-25.5)*p.w/877,p.y+530+q[1]/3-135]),2.6));
  const fr=mk('rect',{x:p.x,y:p.y,width:p.w,height:p.h,fill:'none',stroke:'#222','stroke-width':2.4},g);
  
  
});

const cbars=[
 {id:'1',zero:379.4,bh:22.2,tip:135,end:624,ticks:ticksRow1,step:0.42,pos:bandsEvenPos,neg:bandsEvenNeg,nPos:10,nNeg:10},
 {id:'2',zero:1033.3,bh:21.2,tip:778,end:1267,ticks:ticksRow2,step:0.69,pos:bandsOddPos,neg:bandsOddNeg,nPos:11,nNeg:10},
 {id:'3',zero:1661.5,bh:22.2,tip:1417,end:1906,ticks:ticksRow3,step:2.19,pos:bandsEvenPos,neg:bandsEvenNeg,nPos:10,nNeg:10},
 {id:'4',zero:2304.5,bh:22.2,tip:2060,end:2549,ticks:ticksRow4,step:1.41,pos:bandsEvenPos,neg:bandsEvenNeg,nPos:10,nNeg:10}
];
const X0=1811,X1=1854,XM=(X0+X1)/2;
cbars.forEach(b=>{
  const g=mk('g',{},cbarsG);
  
  
  const yBand=k=>b.zero-k*b.bh;
  const yVal=v=>b.zero-v/b.step*3*b.bh;
  for(let k=0;k<b.nPos;k++){
    const r=mk('rect',{x:X0,y:yBand(k+1),width:X1-X0,height:b.bh+0.4,fill:b.pos[k]},g);
    
    
  }
  for(let k=0;k<b.nNeg;k++){
    const r=mk('rect',{x:X0,y:yBand(-k)-0.2,width:X1-X0,height:b.bh+0.4,fill:b.neg[k]},g);
    
    
  }
  const top=yBand(b.nPos),bot=yBand(-b.nNeg);
  const up=mk('polygon',{points:X0+','+top+' '+XM+','+b.tip+' '+X1+','+top,fill:b.pos[b.nPos]},g);
  
  
  const dn=mk('polygon',{points:X0+','+bot+' '+XM+','+b.end+' '+X1+','+bot,fill:b.neg[b.nNeg]},g);
  
  
  const ol=mk('polygon',{points:[X0,top,XM,b.tip,X1,top,X1,bot,XM,b.end,X0,bot].join(' '),fill:'none',stroke:'#222','stroke-width':2},g);
  
  
  b.ticks.forEach(v=>{
    const y=yVal(v);
    const t=mk('line',{x1:X1,x2:X1+10,y1:y,y2:y,stroke:'#222','stroke-width':2},g);
    
    
    const l=mk('text',{x:1874,y:y+13,class:'tick'},g);
    
    
    l.textContent=(v<0?'\u2212':'')+Math.abs(v).toFixed(2);
  });
});
</script>
</body>
</html>
